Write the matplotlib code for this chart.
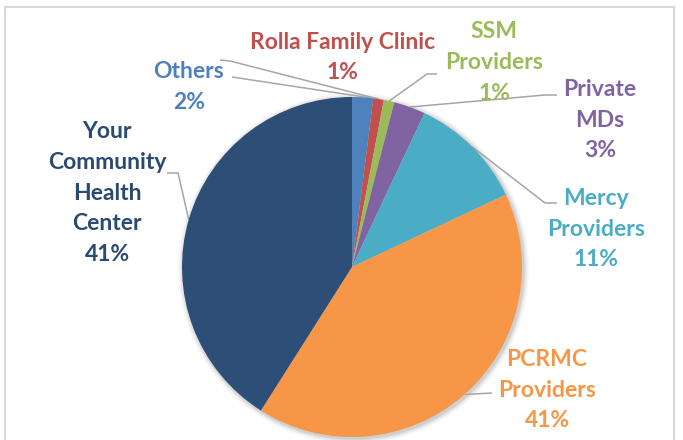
import numpy as np
import matplotlib
matplotlib.use("Agg")
import matplotlib.pyplot as plt
from matplotlib.patches import Circle, Rectangle

# donnees (sens horaire depuis midi)
labels = ["Others", "Rolla Family Clinic", "SSM\nProviders", "Private\nMDs",
          "Mercy\nProviders", "PCRMC\nProviders", "Your\nCommunity\nHealth\nCenter"]
valeurs = [2, 1, 1, 3, 11, 41, 41]
couleurs = ["#4F81BD", "#C0504D", "#9BBB59", "#8064A2", "#4BACC6", "#F79646", "#2D4E76"]
couleurs_txt = ["#4F81BD", "#C0504D", "#9BBB59", "#8064A2", "#4BACC6", "#F79646", "#2B4A70"]

W, H = 683, 440
def py(y):
    # coordonnees pixels (origine en haut) -> donnees
    return H - y

fig = plt.figure(figsize=(W / 100, H / 100), dpi=100)
ax = fig.add_axes([0, 0, 1, 1])

cx, cy, R = 352, 267, 170

# ombre legere autour du camembert
for i, a in enumerate(np.linspace(0.05, 0.01, 6)):
    ax.add_patch(Circle((cx + 1.5, py(cy) - 1.5), R + 1 + i, color="#000000", alpha=a, lw=0, zorder=0))

wedges, _ = ax.pie(valeurs, colors=couleurs, startangle=90, counterclock=False,
                   center=(cx, py(cy)), radius=R, wedgeprops=dict(linewidth=0))
for w in wedges:
    w.set_zorder(2)

# position des etiquettes (centre du bloc de texte, pixels)
pos_txt = [(189, 87), (343, 57.5), (494, 62.5), (600, 120), (596, 229), (547, 390), (107, 193)]
# points de la ligne de rappel cote etiquette
lignes = [[(232, 77)], [(220, 60), (230, 61)], [(437, 74), (427, 74)],
          [(557, 95), (545, 95)], [(557, 203), (545, 203)], [(492, 393)],
          [(167, 173), (178, 173)]]
# ou la ligne touche la part (fraction de l'angle de la part)
frac = [0.95, 0.5, 0.5, 0.5, 0.5, 0.5, 0.5]

cum = np.concatenate([[0], np.cumsum(valeurs)]) / sum(valeurs)
for i in range(len(valeurs)):
    ang = 2 * np.pi * (cum[i] + frac[i] * (cum[i + 1] - cum[i]))
    ax_x = cx + R * np.sin(ang)
    ax_y = cy - R * np.cos(ang)
    pts = lignes[i] + [(ax_x, ax_y)]
    ax.plot([p[0] for p in pts], [py(p[1]) for p in pts], color="#A6A6A6", lw=1.1,
            zorder=1, solid_capstyle="butt")
    pct = f"{valeurs[i]}%"
    ax.text(pos_txt[i][0], py(pos_txt[i][1]), labels[i] + "\n" + pct, ha="center", va="center",
            ma="center", color=couleurs_txt[i], fontsize=16.5, fontweight="bold",
            family="Lato", linespacing=1.56, zorder=3)

# cadre gris
ax.add_patch(Rectangle((5, py(445)), 669, 438, fill=False, ec="#D9D9D9", lw=1.5, zorder=4))

ax.set_xlim(0, W)
ax.set_ylim(0, H)
ax.set_aspect("auto")
ax.axis("off")

fig.savefig("out.png", dpi=100, facecolor="white")
